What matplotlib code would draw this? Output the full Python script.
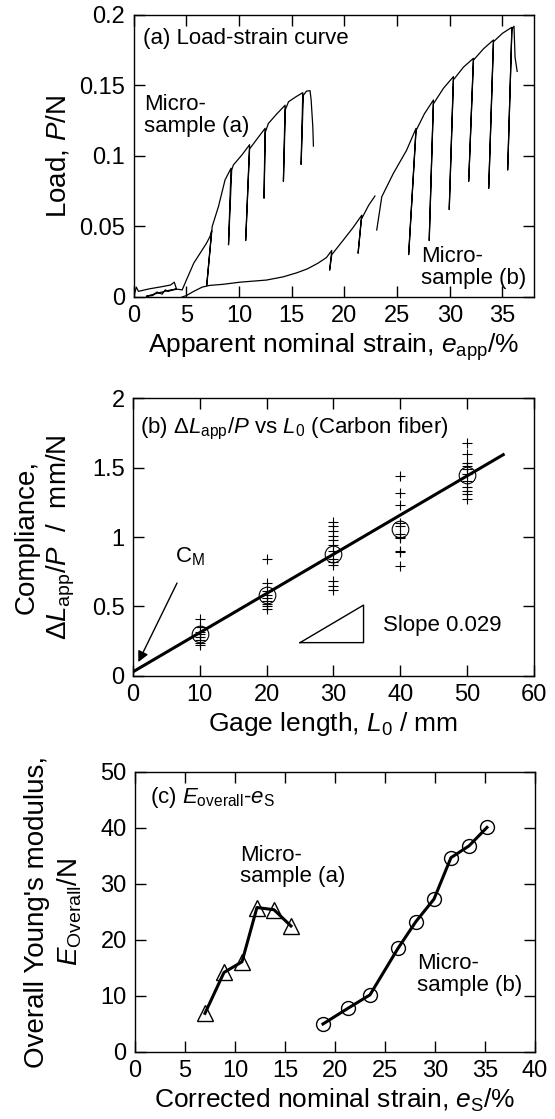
import numpy as np
import matplotlib
matplotlib.use('Agg')
import matplotlib.pyplot as plt
from matplotlib.ticker import FuncFormatter

plt.rcParams['font.family'] = ['Liberation Sans', 'DejaVu Sans']
plt.rcParams['mathtext.fontset'] = 'custom'
plt.rcParams['mathtext.rm'] = 'Liberation Sans'
plt.rcParams['mathtext.it'] = 'Liberation Sans:italic'
plt.rcParams['mathtext.bf'] = 'Liberation Sans:bold'

# (a) load-strain curves (drops = unload/reload)
strain_a = [0.0, 0.25, 0.45, 1.5, 2.6, 3.5, 3.85, 4.05, 3.3, 3.0, 2.7, 2.2, 1.8, 1.2, 2.4, 3.4, 4.2,
            4.6, 5.0, 5.7, 6.3, 6.9, 7.25, 7.4, 6.93, 7.45, 8.04, 8.67, 9.24, 9.0, 9.3, 9.46,
            10.3, 11.0, 10.63, 11.0, 11.8, 12.47, 12.37, 12.5, 12.78, 13.6, 14.37, 14.21,
            14.4, 14.7, 15.4, 16.05, 15.89, 16.1, 16.4, 16.74, 16.84, 17.0, 17.06]
load_a = [0.0, 0.007, 0.004, 0.0058, 0.0072, 0.0085, 0.0105, 0.006, 0.004, 0.005, 0.002, 0.0035,
          0.001, 0.0005, 0.003, 0.0048, 0.0055,
          0.005, 0.012, 0.024, 0.031, 0.038, 0.043, 0.047, 0.008, 0.050, 0.064, 0.083, 0.0913,
          0.037, 0.090, 0.0936, 0.101, 0.108, 0.040, 0.105, 0.113, 0.1196, 0.070, 0.117,
          0.123, 0.130, 0.136, 0.082, 0.133, 0.1385, 0.142, 0.1449, 0.094, 0.143, 0.146,
          0.1463, 0.140, 0.121, 0.107]

strain_b = [4.6, 5.0, 5.7, 6.5, 7.2, 8.5, 10.1, 12.6, 14.2, 15.5, 16.5, 17.5, 18.3, 18.8, 18.6,
            18.8, 19.9, 20.8, 21.65, 21.3, 21.6, 22.3, 22.9, np.nan, 23.07, 23.55, 24.65, 25.9,
            26.8, 26.1, 26.8, 27.6, 28.45, 28.05, 28.45, 29.4, 30.35, 29.95, 30.35, 31.3, 32.25,
            31.8, 32.25, 33.2, 34.15, 33.7, 34.15, 35.0, 35.9, 35.5, 35.9, 36.1, 36.2, 36.4]
load_b = [0.0, 0.001, 0.004, 0.007, 0.0082, 0.009, 0.0105, 0.012, 0.0143, 0.0172, 0.020, 0.024,
          0.028, 0.033, 0.019, 0.030, 0.0404, 0.049, 0.058, 0.031, 0.055, 0.065, 0.0716, np.nan,
          0.0475, 0.0711, 0.0877, 0.104, 0.1196, 0.030, 0.118, 0.130, 0.1397, 0.040, 0.137,
          0.148, 0.1563, 0.062, 0.154, 0.163, 0.1693, 0.082, 0.168, 0.176, 0.1823, 0.077,
          0.181, 0.187, 0.1913, 0.090, 0.190, 0.192, 0.170, 0.160]

# (b) compliance vs gage length
gage = [10, 20, 30, 40, 50]
comp_10 = [0.41, 0.35, 0.32, 0.30, 0.28, 0.26, 0.24, 0.22]
comp_20 = [0.84, 0.67, 0.61, 0.58, 0.56, 0.54, 0.52, 0.50, 0.48]
comp_30 = [1.11, 1.08, 1.04, 1.01, 0.98, 0.94, 0.90, 0.84, 0.82, 0.80, 0.68, 0.65, 0.62]
comp_40 = [1.44, 1.32, 1.23, 1.10, 1.08, 1.02, 1.00, 0.99, 0.90, 0.89, 0.79]
comp_50 = [1.68, 1.60, 1.53, 1.51, 1.49, 1.45, 1.40, 1.36, 1.33, 1.31, 1.27]
comp_mean = [0.30, 0.58, 0.875, 1.06, 1.445]
fit_slope = 0.0282
fit_intercept = 0.03
fit_range = [0, 55.4]
slope_tri_x = [25, 34.5, 34.5, 25]
slope_tri_y = [0.24, 0.24, 0.51, 0.24]

# (c) overall Young's modulus vs corrected strain
es_a = [7.0, 8.9, 10.7, 12.2, 13.9, 15.6]
E_a = [6.9, 14.2, 16.1, 25.8, 25.4, 22.5]
es_b = [18.8, 21.3, 23.5, 26.3, 28.1, 29.9, 31.6, 33.4, 35.2]
E_b = [5.0, 7.8, 10.2, 18.5, 23.3, 27.3, 34.7, 36.8, 40.1]

fig = plt.figure(figsize=(5.55, 11.19), dpi=100)
fmt = FuncFormatter(lambda v, p: '%g' % v)
TS = 17   # tick labels
XL = 19   # x labels
YL = 20   # y labels
AS = 16   # annotations


def style(ax):
    ax.tick_params(direction='in', top=True, right=True, length=8, width=1,
                   labelsize=TS)
    ax.tick_params(axis='x', pad=6)
    ax.tick_params(axis='y', pad=6)
    for s in ax.spines.values():
        s.set_linewidth(1)


def ylab(ax, text, xpos):
    ax.set_ylabel(text, fontsize=YL, linespacing=1.25, va='center', ha='center')
    ax.yaxis.set_label_coords(xpos, 0.5)


# ---- (a)
ax1 = fig.add_axes([0.2409, 0.7346, 0.7213, 0.2520])
ax1.plot(strain_a, load_a, '-k', lw=0.9)
ax1.plot(strain_b, load_b, '-k', lw=0.9)
ax1.set_xlim(0, 38)
ax1.set_ylim(0, 0.2)
ax1.set_xticks([0, 5, 10, 15, 20, 25, 30, 35])
ax1.set_yticks([0, 0.05, 0.1, 0.15, 0.2])
ax1.yaxis.set_major_formatter(fmt)
style(ax1)
ax1.set_xlabel('Apparent nominal strain, $e_\\mathrm{app}$/%', fontsize=XL, labelpad=3)
ylab(ax1, 'Load, $P$/N', -0.189)
ax1.text(0.9, 0.183, '(a) Load-strain curve', fontsize=AS, va='center')
ax1.text(1.0, 0.129, 'Micro-\nsample (a)', fontsize=AS, va='center', linespacing=1.05)
ax1.text(27.25, 0.021, 'Micro-\nsample (b)', fontsize=AS, va='center', linespacing=1.05)

# ---- (b)
ax2 = fig.add_axes([0.2396, 0.3959, 0.7225, 0.2484])
for L0, vals in zip(gage, [comp_10, comp_20, comp_30, comp_40, comp_50]):
    ax2.plot([L0] * len(vals), vals, 'k+', ms=7, mew=0.8)
ax2.plot(gage, comp_mean, 'o', mfc='none', mec='k', ms=12, mew=0.8)
fx = np.array(fit_range)
ax2.plot(fx, fit_intercept + fit_slope * fx, '-k', lw=2.2)
ax2.plot(slope_tri_x, slope_tri_y, '-k', lw=1)
ax2.set_xlim(0, 60)
ax2.set_ylim(0, 2)
ax2.set_xticks([0, 10, 20, 30, 40, 50, 60])
ax2.set_yticks([0, 0.5, 1, 1.5, 2])
ax2.yaxis.set_major_formatter(fmt)
style(ax2)
ax2.set_xlabel('Gage length, $L_0$ / mm', fontsize=XL, labelpad=3)
ylab(ax2, 'Compliance,\n$\\Delta L_\\mathrm{app}/P$  /  mm/N', -0.219)
ax2.text(1.05, 1.78, '(b) $\\Delta L_\\mathrm{app}/P$ vs $L_0$ (Carbon fiber)', fontsize=AS,
         va='center')
ax2.text(37.4, 0.36, 'Slope 0.029', fontsize=AS, va='center')
ax2.annotate('C$_\\mathrm{M}$', xy=(0.8, 0.1), xytext=(6.3, 0.86), fontsize=AS, va='center',
             arrowprops=dict(arrowstyle='-|>', color='k', lw=1, mutation_scale=16,
                             shrinkA=10, shrinkB=0))

# ---- (c)
ax3 = fig.add_axes([0.2432, 0.0599, 0.7207, 0.2502])
ax3.plot(es_a, E_a, '-k', lw=2.2)
ax3.plot(es_a, E_a, '^', mfc='none', mec='k', ms=11, mew=1)
ax3.plot(es_b, E_b, '-k', lw=2.2)
ax3.plot(es_b, E_b, 'o', mfc='none', mec='k', ms=10, mew=1)
ax3.set_xlim(0, 40)
ax3.set_ylim(0, 50)
ax3.set_xticks(range(0, 41, 5))
ax3.set_yticks(range(0, 51, 10))
style(ax3)
ax3.set_xlabel('Corrected nominal strain, $e_\\mathrm{S}$/%', fontsize=XL, labelpad=3)
ylab(ax3, "Overall Young's modulus,\n$E_\\mathrm{Overall}$/N", -0.2025)
ax3.text(1.5, 45.4, '(c) $E_\\mathrm{overall}$-$e_\\mathrm{S}$', fontsize=AS, va='center')
ax3.text(10.5, 33.2, 'Micro-\nsample (a)', fontsize=AS, va='center', linespacing=1.05)
ax3.text(28.2, 13.8, 'Micro-\nsample (b)', fontsize=AS, va='center', linespacing=1.05)

fig.savefig('out.png', dpi=100)
